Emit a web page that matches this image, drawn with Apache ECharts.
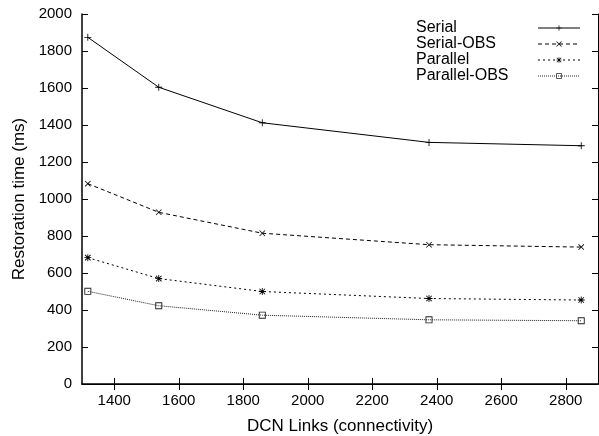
<!DOCTYPE html>
<html>
<head>
<meta charset="utf-8">
<script src="https://cdn.jsdelivr.net/npm/echarts@6/dist/echarts.min.js"></script>
<style>
    html, body { margin: 0; padding: 0; background: #fff; }
    #chart { width: 599px; height: 436px; }
</style>
</head>
<body>
<div id="chart"></div>
<script>
// DCN links on the x axis
var links = [1318, 1538, 1859, 2376, 2848];
// restoration time (ms) per series
var serial = [1874, 1604, 1412, 1306, 1288];
var serialObs = [1083, 928, 815, 753, 740];
var parallel = [683, 570, 500, 462, 454];
var parallelObs = [501, 423, 372, 347, 342];
var seriesNames = ['Serial', 'Serial-OBS', 'Parallel', 'Parallel-OBS'];
var xTicks = [1400, 1600, 1800, 2000, 2200, 2400, 2600, 2800];

var FONT = 'Liberation Sans, Arial, sans-serif';

// marker shapes (gnuplot style), thin strokes drawn as filled bars
var plusPath = 'path://M0,4.4H10V5.6H0Z M4.4,0H5.6V10H4.4Z';
var crossPath = 'path://M0,0.9L0.9,0L10,9.1L9.1,10Z M9.1,0L10,0.9L0.9,10L0,9.1Z';
var starPath = 'path://M0,4.4H10V5.6H0Z M4.4,0H5.6V10H4.4Z M0.6,1.5L1.5,0.6L9.4,8.5L8.5,9.4Z M8.5,0.6L9.4,1.5L1.5,9.4L0.6,8.5Z';
// hollow square drawn as an outline ring
var squarePath = 'path://M0,0H10V10H0Z M1.3,1.3V8.7H8.7V1.3Z';

function pairs(ys) {
    return links.map(function (x, i) { return [x, ys[i]]; });
}

function lineSeries(name, ys, symbol, size, dash, color) {
    return {
        name: name,
        type: 'line',
        data: pairs(ys),
        symbol: symbol,
        symbolSize: size,
        showSymbol: true,
        itemStyle: { color: color, borderWidth: 0 },
        lineStyle: { color: color, width: 1, type: dash }
    };
}

var mchart = echarts.init(document.getElementById('chart'));
var option = {
    animation: false,
    backgroundColor: '#fff',
    grid: { left: 82, right: 1, top: 14, bottom: 52, outerBoundsMode: 'none', containLabel: false },
    legend: {
        orient: 'vertical',
        left: 411,
        top: 15,
        align: 'right',
        itemWidth: 42,
        itemHeight: 7,
        itemGap: 0,
        data: seriesNames,
        lineStyle: { width: 1 },
        formatter: '{a|{name}}',
        textStyle: {
            color: '#000',
            fontFamily: FONT,
            fontSize: 16,
            rich: { a: { width: 117, align: 'left', fontSize: 16, lineHeight: 15.5, fontFamily: FONT, color: '#000' } }
        }
    },
    xAxis: [{
        type: 'value',
        min: 1300,
        max: 2900,
        name: 'DCN Links (connectivity)',
        nameLocation: 'middle',
        nameGap: 34,
        nameTextStyle: { color: '#000', fontSize: 17, fontFamily: FONT },
        axisLine: { lineStyle: { color: '#000', width: 1.5 } },
        axisTick: { inside: true, length: 6, customValues: xTicks, lineStyle: { color: '#000' } },
        axisLabel: { customValues: xTicks, color: '#000', fontSize: 15, fontFamily: FONT, margin: 9,
            formatter: function (v) { return String(v); } },
        splitLine: { show: false }
    }, {
        type: 'value',
        position: 'top',
        min: 1300,
        max: 2900,
        axisLine: { lineStyle: { color: '#000', width: 1 } },
        axisTick: { inside: true, length: 6, customValues: xTicks, lineStyle: { color: '#000' } },
        axisLabel: { show: false },
        splitLine: { show: false }
    }],
    yAxis: [{
        type: 'value',
        min: 0,
        max: 2000,
        interval: 200,
        name: 'Restoration time (ms)',
        nameLocation: 'middle',
        nameGap: 50,
        nameTextStyle: { color: '#000', fontSize: 17, fontFamily: FONT },
        axisLine: { show: true, lineStyle: { color: '#000', width: 1.5 } },
        axisTick: { show: true, inside: true, length: 6, lineStyle: { color: '#000' } },
        axisLabel: { color: '#000', fontSize: 15, fontFamily: FONT, margin: 10,
            formatter: function (v) { return String(v); } },
        splitLine: { show: false }
    }, {
        type: 'value',
        position: 'right',
        min: 0,
        max: 2000,
        interval: 200,
        axisLine: { show: true, lineStyle: { color: '#000', width: 1 } },
        axisTick: { show: true, inside: true, length: 6, lineStyle: { color: '#000' } },
        axisLabel: { show: false },
        splitLine: { show: false }
    }],
    series: [
        lineSeries('Serial', serial, plusPath, 7, 'solid', '#000'),
        lineSeries('Serial-OBS', serialObs, crossPath, 6, [4, 3], '#000'),
        lineSeries('Parallel', parallel, starPath, 7, [2, 3], '#000'),
        lineSeries('Parallel-OBS', parallelObs, squarePath, 7, [1, 1], '#222')
    ]
};
mchart.setOption(option);
</script>
</body>
</html>
